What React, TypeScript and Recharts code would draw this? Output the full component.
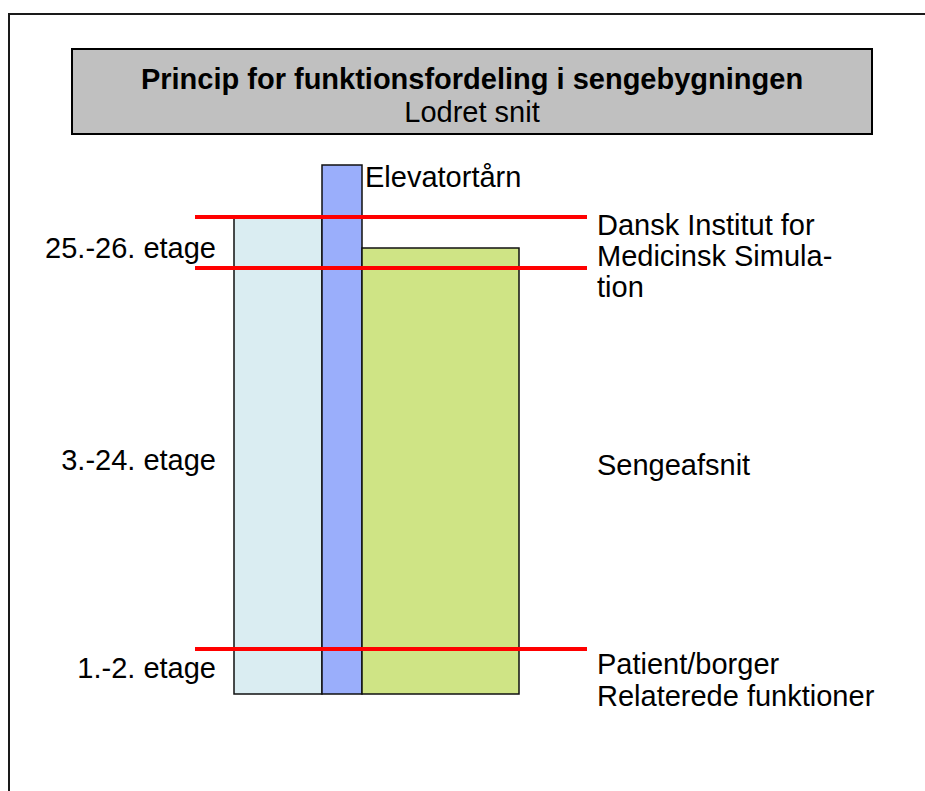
import { ComposedChart, XAxis, YAxis, ReferenceArea, ReferenceLine, ReferenceDot } from 'recharts';

// building section, x = metres-ish from the left facade, y = height above ground (schematic units)
const blockNames = ['Sengebygning', 'Elevatortårn', 'Sengeafsnit'];
const blockLeft = [0, 88, 128];
const blockRight = [88, 128, 285];
const blockTop = [477, 529, 446];
const blockColors = ['#DAEDF2', '#9AAEFB', '#CFE485'];

// red division lines between functions
const divisionHeights = [477, 426, 45];
const divisionFrom = -39;
const divisionTo = 353;

const floorLabels = ['25.-26. etage', '3.-24. etage', '1.-2. etage'];
const floorLabelHeights = [436, 224, 16];

const functionLabels = [
  ['Dansk Institut for', 'Medicinsk Simula-', 'tion'],
  ['Sengeafsnit'],
  ['Patient/borger', 'Relaterede funktioner'],
];
const functionLabelHeights = [459, 219, 20];

const title = 'Princip for funktionsfordeling i sengebygningen';
const subtitle = 'Lodret snit';

const FONT = '"Liberation Sans", Arial, sans-serif';
const W = 925;
const H = 791;

function textLabel(lines: string[], anchor: 'start' | 'middle' | 'end', opts: { bold?: boolean; size?: number; gap?: number } = {}) {
  return (p: any) => {
    const vb = p.viewBox || {};
    const x = vb.x ?? p.x;
    const y = vb.y ?? p.y;
    return (
      <text
        x={x}
        y={y}
        textAnchor={anchor}
        fontFamily={FONT}
        fontSize={opts.size ?? 29}
        fontWeight={opts.bold ? 'bold' : 'normal'}
        fill="#000"
      >
        {lines.map((l, i) => (
          <tspan key={i} x={x} dy={i === 0 ? 0 : opts.gap ?? 31}>
            {l}
          </tspan>
        ))}
      </text>
    );
  };
}

export default function App() {
  return (
    <div style={{ position: 'absolute', left: 0, top: 0, width: W, height: H, background: '#fff', overflow: 'hidden' }}>
      <div
        style={{
          position: 'absolute',
          left: 8,
          top: 13,
          width: W,
          height: H,
          borderLeft: '2px solid #1a1a1a',
          borderTop: '2px solid #1a1a1a',
        }}
      />
      <div style={{ position: 'absolute', left: 0, top: 0 }}>
        <ComposedChart width={W} height={H} data={[]} margin={{ top: 0, right: 0, bottom: 0, left: 0 }}>
          <XAxis type="number" dataKey="x" domain={[-234, 691]} hide allowDataOverflow />
          <YAxis type="number" dataKey="y" domain={[-97, 694]} hide allowDataOverflow />

          {/* title box */}
          <ReferenceArea
            x1={-162}
            x2={638}
            y1={560}
            y2={645}
            fill="#C0C0C0"
            fillOpacity={1}
            stroke="#000"
            strokeWidth={2}
            ifOverflow="visible"
          />

          {blockNames.map((n, i) => (
            <ReferenceArea
              key={n}
              x1={blockLeft[i]}
              x2={blockRight[i]}
              y1={0}
              y2={blockTop[i]}
              fill={blockColors[i]}
              fillOpacity={1}
              stroke="#111"
              strokeWidth={1.5}
              ifOverflow="visible"
            />
          ))}

          {divisionHeights.map((h) => (
            <ReferenceLine
              key={h}
              segment={[
                { x: divisionFrom, y: h },
                { x: divisionTo, y: h },
              ]}
              stroke="#FF0000"
              strokeWidth={4}
              ifOverflow="visible"
            />
          ))}

          <ReferenceDot x={238} y={605} r={0} fill="none" stroke="none" ifOverflow="visible"
            label={textLabel([title], 'middle', { bold: true, size: 29 })} />
          <ReferenceDot x={238} y={572} r={0} fill="none" stroke="none" ifOverflow="visible"
            label={textLabel([subtitle], 'middle')} />

          <ReferenceDot x={blockRight[1] + 3} y={507} r={0} fill="none" stroke="none" ifOverflow="visible"
            label={textLabel([blockNames[1]], 'start')} />

          {floorLabels.map((l, i) => (
            <ReferenceDot key={l} x={-18} y={floorLabelHeights[i]} r={0} fill="none" stroke="none" ifOverflow="visible"
              label={textLabel([l], 'end')} />
          ))}

          {functionLabels.map((lines, i) => (
            <ReferenceDot key={lines[0]} x={363} y={functionLabelHeights[i]} r={0} fill="none" stroke="none" ifOverflow="visible"
              label={textLabel(lines, 'start', { gap: i === 2 ? 32 : 31 })} />
          ))}
        </ComposedChart>
      </div>
    </div>
  );
}
